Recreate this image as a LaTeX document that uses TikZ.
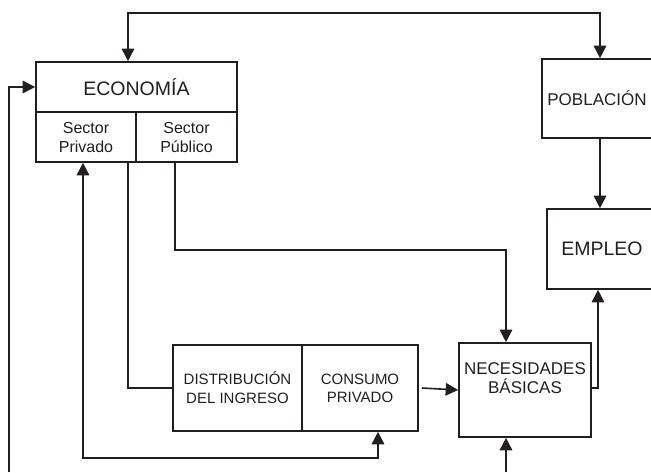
\documentclass[tikz,border=0pt]{standalone}
\usepackage{fontspec}
\setmainfont{Liberation Sans}
\usetikzlibrary{arrows.meta}
\definecolor{tinta}{RGB}{35,31,32}

\begin{document}
\begin{tikzpicture}[x=1pt,y=-1pt,
    caja/.style ={rectangle, draw=tinta, line width=1.6pt, inner sep=0pt, align=center, text=tinta},
    linea/.style ={draw=tinta, line width=1.6pt},
    flecha/.style ={linea, -{Triangle[length=12.5pt,width=12.5pt]}},
    ambas/.style ={linea, {Triangle[length=12.5pt,width=12.5pt]}-{Triangle[length=12.5pt,width=12.5pt]}}]
   \useasboundingbox (0,0) rectangle (651,472);
   \clip (0,0) rectangle (651,472);

   \node[caja, minimum width=201pt, minimum height=50pt, font=\fontsize{19.5}{22}\selectfont] (econ) at (136.5,87) {ECONOMÍA};
   \node[caja, minimum width=100pt, minimum height=50pt, font=\fontsize{16}{19}\selectfont] (priv) at (86,137) {Sector\\Privado};
   \node[caja, minimum width=101pt, minimum height=50pt, font=\fontsize{16}{19}\selectfont] (pub) at (186.5,137) {Sector\\Público};
   \node[caja, minimum width=110pt, minimum height=79pt, font=\fontsize{17}{20}\selectfont] (pob) at (597,98.5) {POBLACIÓN};
   \node[caja, minimum width=110pt, minimum height=80pt, font=\fontsize{19.5}{22}\selectfont] (emp) at (602,249) {EMPLEO};
   \node[caja, minimum width=132pt, minimum height=94pt, font=\fontsize{17}{19}\selectfont] (nec) at (525,390) {NECESIDADES\\BÁSICAS\\[4pt]};
   \node[caja, minimum width=129pt, minimum height=86pt, font=\fontsize{15}{19}\selectfont] (dist) at (237.5,388) {DISTRIBUCIÓN\\DEL INGRESO};
   \node[caja, minimum width=116pt, minimum height=86pt, font=\fontsize{15}{18}\selectfont] (cons) at (360,388) {CONSUMO\\PRIVADO};

   \coordinate (bordeizq) at (9,472);
   \coordinate (bordeinf) at (506,472);

   \draw[ambas] (econ.north -| 128,0) -- (128,13) -| (pob.north -| 600,0);
   \draw[flecha] (pob.south -| 600,0) -- (emp.north -| 600,0);
   \draw[flecha] ([yshift=2pt]nec.east) -| (emp.south -| 598,0);
   \draw[flecha] (pub.south -| 175,0) -- (175,250) -| (nec.north -| 506,0);
   \draw[linea] (priv.south -| 128,0) -- (128,388) -- (dist.west);
   \draw[ambas] (priv.south -| 83,0) -- (83,458) -| (cons.south -| 378,0);
   \draw[flecha] ([xshift=3pt]cons.east) -- (nec.west);
   \draw[flecha] (bordeizq) |- (econ.west);
   \draw[flecha] (bordeinf) -- (nec.south -| bordeinf);
 \end{tikzpicture}
\end{document}
